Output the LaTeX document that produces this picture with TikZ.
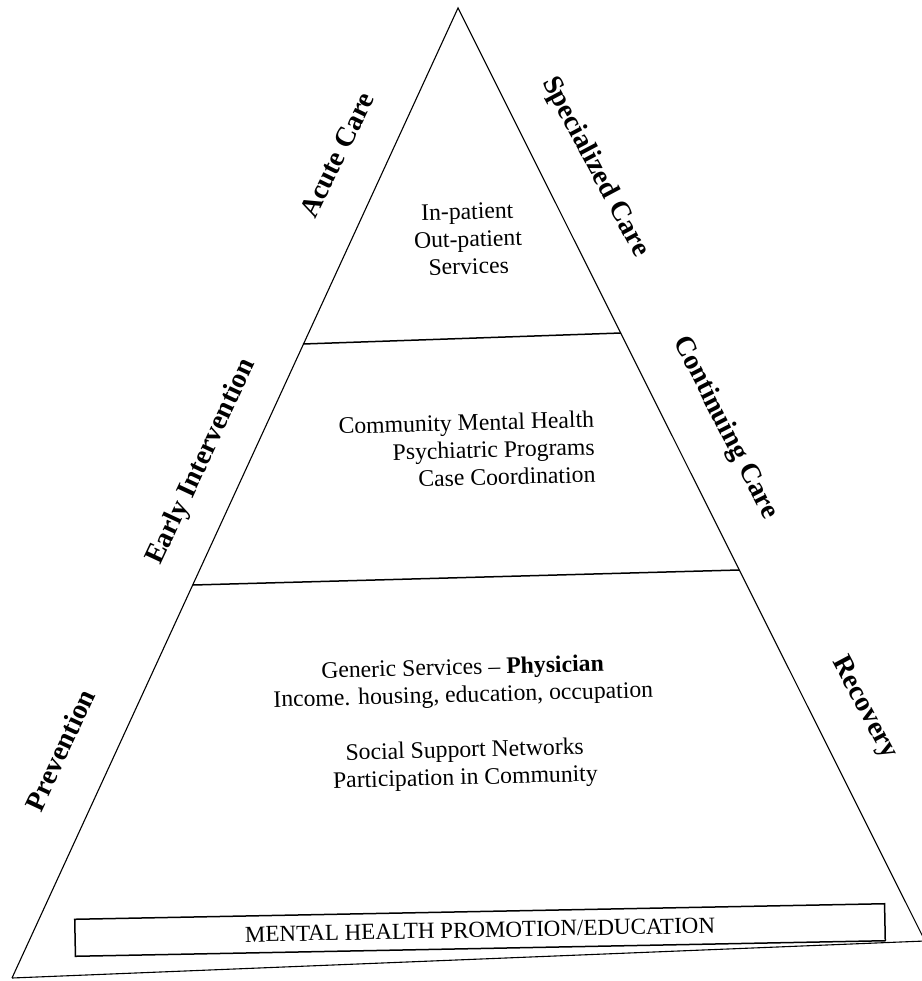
\documentclass[tikz,border=0pt]{standalone}
\usepackage{fontspec}
\setmainfont{Liberation Serif}
\usetikzlibrary{calc}

\begin{document}
\begin{tikzpicture}[x=1pt,y=-1pt,line width=1.1pt,
    level/.style={font=\fontsize{23.7}{27.5}\selectfont,align=center,rotate=1.5,inner sep=0pt},
    side/.style={font=\fontsize{28}{30}\selectfont\bfseries,inner sep=0pt}]
    \useasboundingbox (0,0) rectangle (921,981);
    % the pyramid
    \coordinate (top) at (458,8);
    \coordinate (bl) at (12,978);
    \coordinate (br) at (925,941);
    \draw (bl) -- (top) -- (br);
    \draw (bl) -- (br);
    % its three levels
    \coordinate (l1) at (303,344);
    \coordinate (r1) at (621,333);
    \coordinate (l2) at (193,585);
    \coordinate (r2) at (739,570);
    \draw[line width=1.5pt] (l1) -- (r1);
    \draw[line width=1.5pt] (l2) -- (r2);
    \node[level] (acute) at (468,239) {In-patient\\Out-patient\\Services};
    \node[level,align=right] (cmh) at (467,450) {Community Mental Health\\Psychiatric Programs\\Case Coordination};
    \node[level] (generic) at (464,724) {Generic Services -- \textbf{Physician}\\Income. housing, education, occupation\\[27.5pt]Social Support Networks\\Participation in Community};
    \node[draw,line width=1.5pt,rotate=1.1,minimum width=810pt,minimum height=37pt,inner sep=0pt,
        font=\fontsize{23}{25}\selectfont] (promo) at (480,930) {MENTAL HEALTH PROMOTION/EDUCATION};
    % labels along the sides
    \node[side,rotate=64] (lacute) at (337,155) {Acute Care};
    \node[side,rotate=-62] (lspec) at (595,167) {Specialized Care};
    \node[side,rotate=65] (learly) at (202,462) {Early Intervention};
    \node[side,rotate=-63] (lcont) at (725,428) {Continuing Care};
    \node[side,rotate=65] (lprev) at (60,750) {Prevention};
    \node[side,rotate=-62] (lrec) at (864,708) {Recovery};
\end{tikzpicture}
\end{document}
